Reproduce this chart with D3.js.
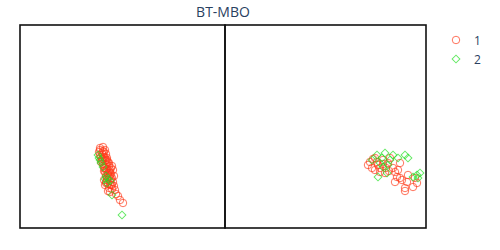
<!DOCTYPE html>
<html><head><meta charset="utf-8">
<script src="https://cdn.jsdelivr.net/npm/d3@7"></script>
<style>body{margin:0;background:#fff}svg{display:block}</style>
</head><body>
<svg id="c" width="500" height="250"></svg>
<script>
const title = "BT-MBO";
const seriesNames = ["1", "2"];
// panel 1 series
const p1s1x = [8.0,8.3,8.5,7.9,8.2,8.6,8.1,8.4,8.7,8.2,8.5,8.8,8.3,8.6,8.9,8.4,8.7,9.0,8.5,8.8,9.1,8.6,8.9,9.2,8.7,9.0,9.3,8.8,9.1,9.4,8.6,8.9,9.2,9.5,8.3,8.4,9.0,9.2,9.3,8.1,8.5,9.6,9.8,10.0,10.3,8.8,9.0,8.4,8.6,8.7,8.9,9.1,8.0,8.4,
  8.0,8.3,8.5,8.7,8.9,9.1,9.0,8.8,8.6,8.4,8.2,8.5,8.7,9.0,9.2,9.4,8.6,8.3];
const p1s1y = [8.0,8.1,7.8,7.6,7.5,7.4,7.1,7.1,7.0,6.7,6.7,6.6,6.4,6.3,6.2,6.0,5.9,5.8,5.6,5.5,5.4,5.2,5.1,5.0,4.8,4.7,4.6,4.4,4.3,4.2,4.5,4.0,3.9,3.8,6.9,5.7,5.2,6.2,5.8,6.6,4.3,3.4,3.2,2.8,2.5,3.7,3.6,4.8,6.8,6.4,5.7,4.9,7.8,7.6,
  7.3,7.3,7.0,6.8,6.5,6.0,5.5,5.3,5.8,6.2,6.9,6.0,5.0,4.4,4.3,5.2,4.6,7.7];
const p1s2x = [7.8,8.0,8.1,7.9,8.3,8.6,8.8,9.0,8.5,9.2,10.2,8.7];
const p1s2y = [7.3,6.8,6.5,7.0,6.1,5.2,4.9,4.7,4.9,3.3,1.3,4.5];
// panel 2 series
const p2s1x = [14.5,15.0,14.7,14.3,15.5,16.0,16.3,16.8,17.2,17.5,17.0,18.0,18.3,19.0,18.8,17.5,18.2,18.0,19.2,15.3,15.8,16.5,15.5,16.1,15.0,17.0,17.3,17.7,15.2,15.8,16.4,14.8];
const p2s1y = [6.6,7.0,6.0,6.3,5.6,5.5,6.5,6.0,5.1,6.5,4.6,4.0,5.3,5.0,4.1,5.0,4.6,3.7,4.5,6.3,6.8,7.0,6.0,6.0,5.8,5.6,5.8,4.8,6.6,6.4,5.7,6.9];
const p2s2x = [15.2,16.0,16.8,17.3,18.0,18.3,15.5,15.8,16.2,15.3,19.2,19.5,18.8,19.3,16.5,14.7,15.7,16.3];
const p2s2y = [7.3,7.5,7.3,7.0,7.3,7.0,6.5,6.1,5.5,5.1,5.3,5.5,5.1,5.0,6.8,6.8,7.0,6.3];

const colors = ["#ff3a1a", "#22e022"];
const svg = d3.select("#c");
const plotTop = 25, plotBottom = 228;
const panels = [
  {x0: 20, x1: 225, dom: [0, 20.5], s: [[p1s1x,p1s1y],[p1s2x,p1s2y]]},
  {x0: 225, x1: 426, dom: [0, 20.1], s: [[p2s1x,p2s1y],[p2s2x,p2s2y]]}
];
const y = d3.scaleLinear().domain([0, 20.3]).range([plotBottom, plotTop]);
const circle = d3.symbol().type(d3.symbolCircle).size(44);
const diamond = d3.symbol().type(d3.symbolSquare).size(30);

panels.forEach(p => {
  const x = d3.scaleLinear().domain(p.dom).range([p.x0, p.x1]);
  p.s.forEach((ser, i) => {
    const pts = ser[0].map((v, k) => [v, ser[1][k]]);
    svg.append("g").selectAll("path").data(pts).join("path")
      .attr("d", i === 0 ? circle : diamond)
      .attr("transform", d => `translate(${x(d[0])},${y(d[1])})` + (i === 1 ? " rotate(45)" : ""))
      .attr("fill", "none")
      .attr("stroke", colors[i])
      .attr("stroke-opacity", 0.7)
      .attr("stroke-width", 1);
  });
});
panels.forEach(p => {
  svg.append("rect").attr("x", p.x0).attr("y", plotTop)
    .attr("width", p.x1 - p.x0).attr("height", plotBottom - plotTop)
    .attr("fill", "none").attr("stroke", "#111").attr("stroke-width", 1.6);
});

svg.append("text").attr("x", 223).attr("y", 17).attr("text-anchor", "middle")
  .attr("font-family", "'Open Sans', sans-serif").attr("font-size", 14)
  .attr("fill", "#2a3f5f").text(title);

const leg = svg.append("g");
seriesNames.forEach((n, i) => {
  const ly = 40 + i * 19;
  leg.append("path").attr("d", i === 0 ? circle : diamond)
    .attr("transform", `translate(456,${ly})` + (i === 1 ? " rotate(45)" : ""))
    .attr("fill", "none").attr("stroke", colors[i]).attr("stroke-opacity", 0.7);
  leg.append("text").attr("x", 474).attr("y", ly + 4.5)
    .attr("font-family", "'Open Sans', sans-serif").attr("font-size", 12)
    .attr("fill", "#2a3f5f").text(n);
});
</script>
</body></html>
